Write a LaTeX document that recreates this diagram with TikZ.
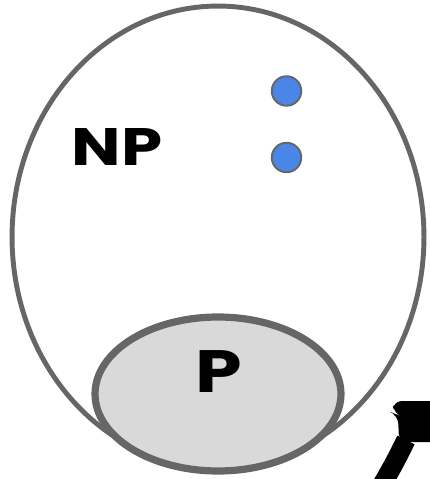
\documentclass[tikz,border=0pt]{standalone}
\usepackage{fontspec}
\setmainfont{Poppins}[FakeStretch=1.25]
\usetikzlibrary{shapes.geometric}
\definecolor{rim}{HTML}{666666}
\definecolor{dotblue}{HTML}{4A86E8}
\definecolor{shade}{HTML}{D9D9D9}

\begin{document}
\begin{tikzpicture}[x=0.02cm, y=-0.02cm,
  set/.style={ellipse, draw=rim, inner sep=0pt},
  dot/.style={circle, draw=rim, fill=dotblue, line width=1.1pt, minimum size=0.59cm, inner sep=0pt},
  lbl/.style={inner sep=0pt, font=\fontsize{#1}{#1}\selectfont\bfseries}]
  \useasboundingbox (0,0) rectangle (429,479);
  \node[set, line width=2.8pt, minimum width=8.24cm, minimum height=9.24cm] (np) at (218,237) {};
  \node[set, fill=shade, line width=4.1pt, minimum width=4.92cm, minimum height=3.08cm] (p) at (218,394) {};
  \node[lbl=30] (nplbl) at (117,147) {NP};
  \node[lbl=34] (plbl) at (219,372) {P};
  \node[dot] (d1) at (286.5,91) {};
  \node[dot] (d2) at (286.5,157.5) {};
  % arrow coming in from the lower right
  \draw[line width=11pt] (379,490) .. controls (394,464) .. (406,440);
  \fill[rounded corners=5] (393,413) -- (393,401) -- (440,401) -- (440,442) -- (399,442) -- (398,415) -- cycle;
\end{tikzpicture}
\end{document}
